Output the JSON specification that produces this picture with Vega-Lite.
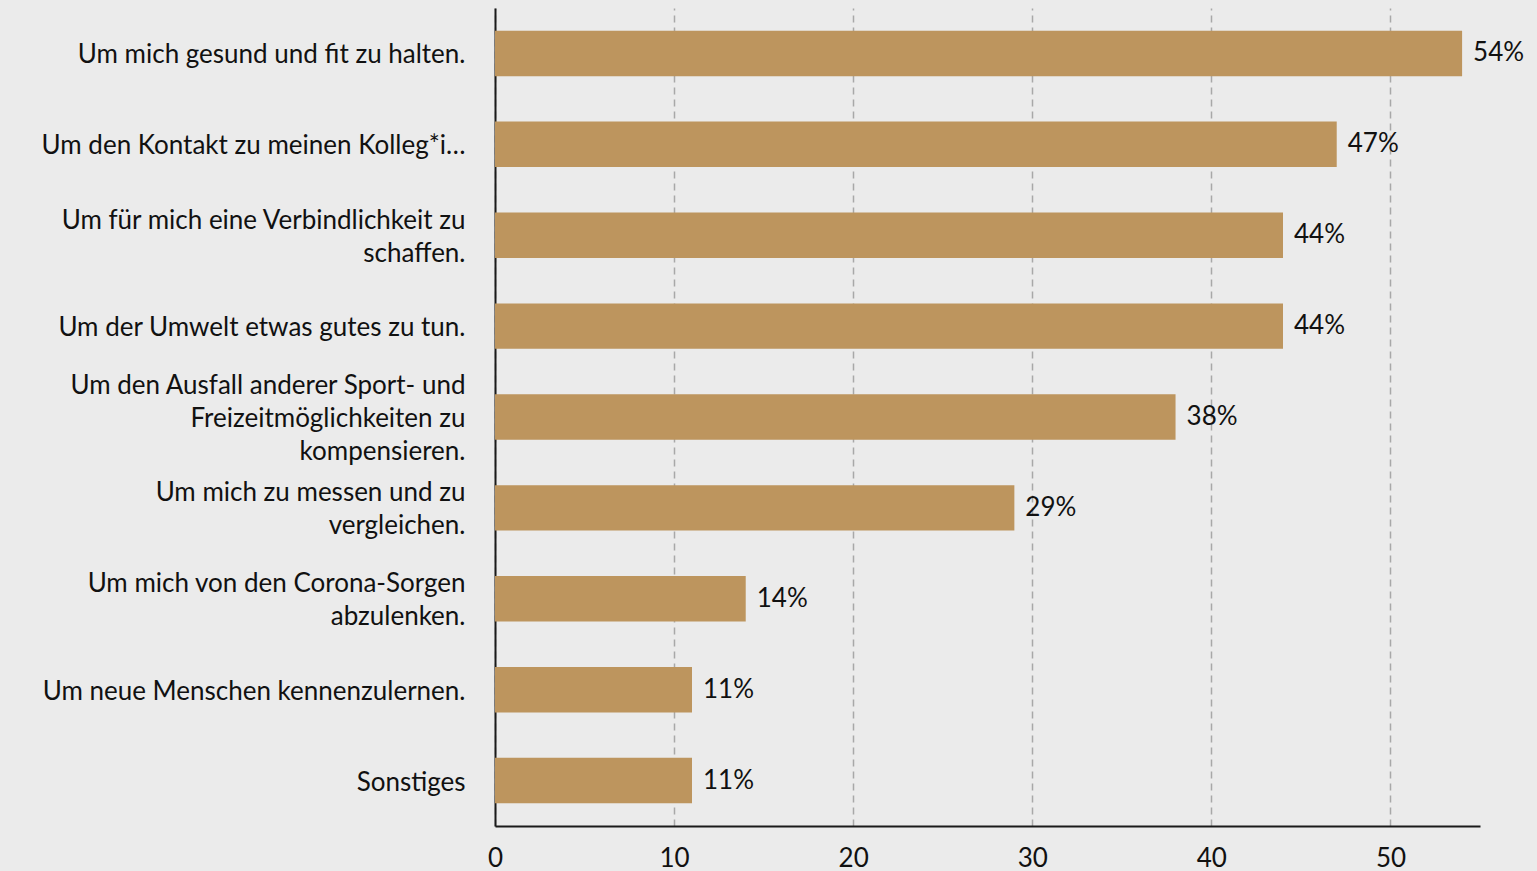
{
  "$schema": "https://vega.github.io/schema/vega-lite/v6.json",
  "width": 985,
  "height": 818,
  "autosize": {"type": "none"},
  "padding": {"left": 495, "top": 8, "right": 57, "bottom": 45},
  "background": "#ebebeb",
  "config": {
    "view": {"stroke": null},
    "font": "Lato",
    "axis": {"labelFont": "Lato", "labelFontSize": 26, "labelColor": "#111111", "ticks": false, "domainColor": "#1a1a1a", "domainWidth": 2, "title": null}
  },
  "data": {
    "values": [
      {"reason": "Um mich gesund und fit zu halten.", "pct": 54, "lbl": "54%"},
      {"reason": "Um den Kontakt zu meinen Kolleg*i…", "pct": 47, "lbl": "47%"},
      {"reason": "Um für mich eine Verbindlichkeit zu|schaffen.", "pct": 44, "lbl": "44%"},
      {"reason": "Um der Umwelt etwas gutes zu tun.", "pct": 44, "lbl": "44%"},
      {"reason": "Um den Ausfall anderer Sport- und|Freizeitmöglichkeiten zu |kompensieren.", "pct": 38, "lbl": "38%"},
      {"reason": "Um mich zu messen und zu|vergleichen.", "pct": 29, "lbl": "29%"},
      {"reason": "Um mich von den Corona-Sorgen|abzulenken.", "pct": 14, "lbl": "14%"},
      {"reason": "Um neue Menschen kennenzulernen.", "pct": 11, "lbl": "11%"},
      {"reason": "Sonstiges", "pct": 11, "lbl": "11%"}
    ]
  },
  "encoding": {
    "y": {
      "field": "reason", "type": "nominal", "sort": null,
      "scale": {"paddingInner": 0.5, "paddingOuter": 0.25},
      "axis": {"labelExpr": "split(datum.label, '|')", "labelPadding": 30, "labelLimit": 480, "labelLineHeight": 33, "grid": false,
               "labelOffset": {"expr": "-(length(split(datum.value, '|')) - 1) * 16.5 + 2"}}
    },
    "x": {
      "field": "pct", "type": "quantitative",
      "scale": {"domain": [0, 55], "nice": false},
      "axis": {"values": [0, 10, 20, 30, 40, 50], "labelPadding": 19, "grid": true, "gridDash": [7, 5], "gridColor": "#a8a8a8", "gridWidth": 1.5, "labelFlush": false}
    }
  },
  "layer": [
    {"mark": {"type": "bar", "color": "#bd955e"}},
    {"mark": {"type": "text", "align": "left", "baseline": "middle", "dx": 11, "fontSize": 26, "font": "Lato", "color": "#111111"},
     "encoding": {"text": {"field": "lbl"}}}
  ]
}
